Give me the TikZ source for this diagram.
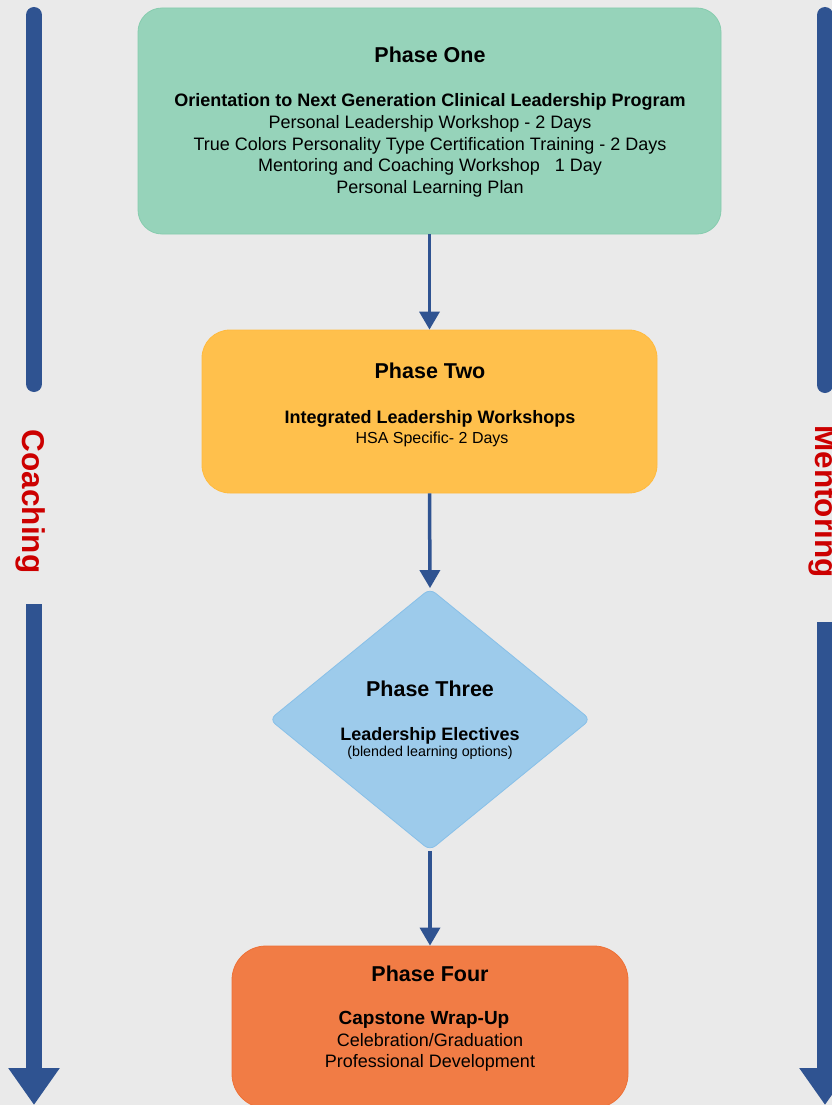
\documentclass[tikz,border=0pt]{standalone}
\usepackage{fontspec}
\setmainfont{Liberation Sans}
\usetikzlibrary{shapes.geometric,arrows.meta}
\definecolor{bgc}{HTML}{EAEAEA}
\definecolor{mint}{HTML}{96D3BA}
\definecolor{mintb}{HTML}{86CCAE}
\definecolor{gold}{HTML}{FFC04C}
\definecolor{goldb}{HTML}{FFBA3E}
\definecolor{sky}{HTML}{9DCBEB}
\definecolor{skyb}{HTML}{88C0E8}
\definecolor{orng}{HTML}{F17C45}
\definecolor{orngb}{HTML}{EE7035}
\definecolor{navy}{HTML}{2F5391}
\definecolor{redt}{HTML}{CC0000}
\tikzset{
  phasebox/.style={draw, line width=0.8pt, rounded corners=#1, inner sep=0pt},
  ttl/.style={anchor=base, inner sep=0pt, font=\fontsize{21.5}{21.5}\selectfont\bfseries},
  sub/.style={anchor=base, inner sep=0pt, font=\fontsize{18}{18}\selectfont\bfseries},
  body/.style={anchor=base, inner sep=0pt, font=\fontsize{18}{18}\selectfont},
  flowarrow/.style={draw=navy, line width=3.5pt, -{Triangle[length=18pt,width=20pt]}},
  sidebar/.style={draw=navy, line width=16pt},
  sidearrow/.style={draw=navy, line width=16pt, -{Triangle[length=37pt,width=49pt]}},
  sidelabel/.style={anchor=base, inner sep=0pt, rotate=-90, text=redt, font=\fontsize{31.5}{31.5}\selectfont\bfseries},
}
\begin{document}
\begin{tikzpicture}[x=1pt,y=-1pt]
\useasboundingbox (0,0) rectangle (832,1105);
\clip (0,0) rectangle (832,1105);
\fill[bgc] (0,0) rectangle (832,1105);

% side bars
\coordinate (lt) at (34,15);
\coordinate (lm) at (34,384);
\coordinate (ls) at (34,604);
\coordinate (le) at (34,1105);
\coordinate (rt) at (825,15);
\coordinate (rm) at (825,385);
\coordinate (rs) at (825,622);
\coordinate (re) at (825,1105);
\draw[sidebar, line cap=round] (lt) -- (lm);
\draw[sidearrow] (ls) -- (le);
\draw[sidebar, line cap=round] (rt) -- (rm);
\draw[sidearrow] (rs) -- (re);
\node[sidelabel] (coach) at (23,501.5) {Coaching};
\node[sidelabel] (mentor) at (815,501.5) {Mentoring};

% boxes
\node[phasebox=24pt, fill=mint, draw=mintb, minimum width=583pt, minimum height=226pt] (b1) at (429.5,121) {};
\node[phasebox=28pt, fill=gold, draw=goldb, minimum width=455pt, minimum height=163pt] (b2) at (429.5,411.5) {};
\node[diamond, draw=skyb, fill=sky, line width=0.8pt, rounded corners=7pt, inner sep=0pt, minimum width=321pt, minimum height=262pt] (b3) at (430,719.5) {};
\node[phasebox=34pt, fill=orng, draw=orngb, minimum width=396pt, minimum height=162pt] (b4) at (430,1027) {};

% connectors
\draw[flowarrow] (b1.south) -- (b2.north);
\draw[flowarrow] (b2.south) -- (b3.north);
\draw[flowarrow] (b3.south) -- (b4.north);

% texts phase one
\node[ttl] (t1) at (430,63) {Phase One};
\node[sub] (t1a) at (430,107) {Orientation to Next Generation Clinical Leadership Program};
\node[body] (t1b) at (430,128.5) {Personal Leadership Workshop - 2 Days};
\node[body] (t1c) at (430,150) {True Colors Personality Type Certification Training - 2 Days};
\node[body] (t1d) at (430,171.5) {Mentoring and Coaching Workshop\ \ \ 1 Day};
\node[body] (t1e) at (430,193) {Personal Learning Plan};

% phase two
\node[ttl] (t2) at (430,378) {Phase Two};
\node[sub] (t2a) at (430,423) {Integrated Leadership Workshops};
\node[body, font=\fontsize{16}{16}\selectfont] (t2b) at (432,443) {HSA Specific- 2 Days};

% phase three
\node[ttl] (t3) at (430,696) {Phase Three};
\node[sub] (t3a) at (430,740) {Leadership Electives};
\node[body, font=\fontsize{14.3}{14.3}\selectfont] (t3b) at (430,756) {(blended learning options)};

% phase four
\node[ttl] (t4) at (430,981) {Phase Four};
\node[sub, font=\fontsize{19}{19}\selectfont\bfseries] (t4a) at (424,1024) {Capstone Wrap-Up};
\node[body] (t4b) at (430,1046) {Celebration/Graduation};
\node[body] (t4c) at (430,1067) {Professional Development};
\end{tikzpicture}
\end{document}
